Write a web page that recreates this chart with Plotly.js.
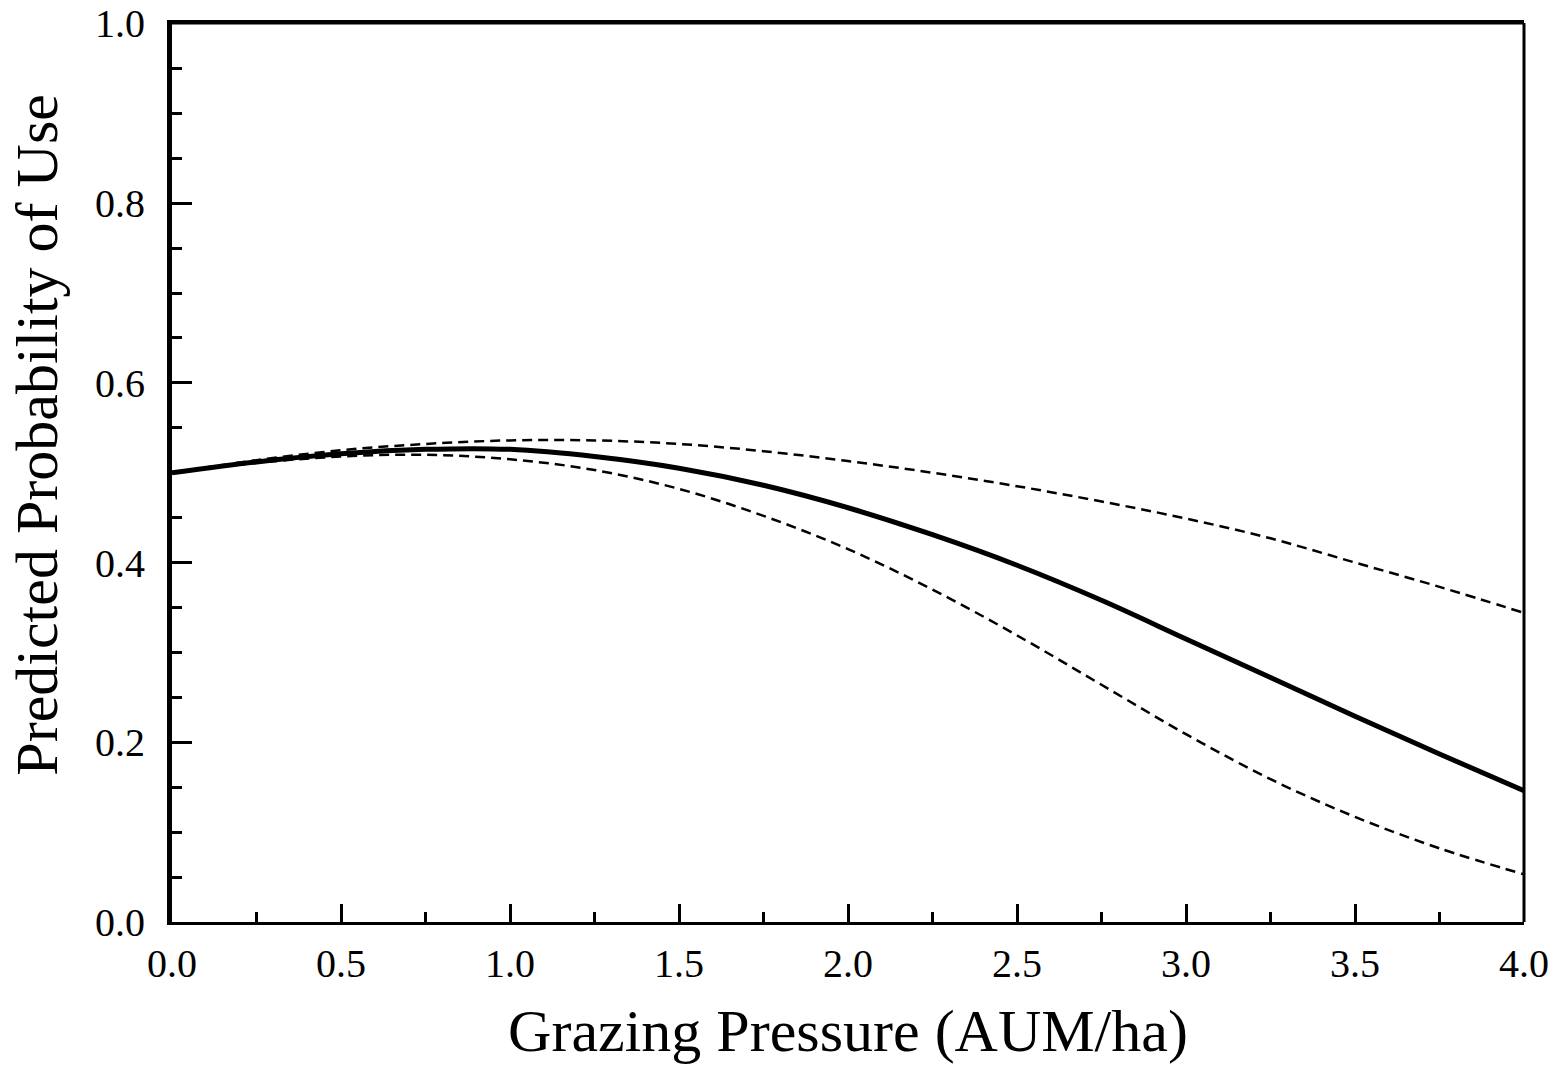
<!DOCTYPE html>
<html>
<head>
<meta charset="utf-8">
<script src="https://cdn.plot.ly/plotly-3.0.1.min.js"></script>
<style>html,body{margin:0;padding:0;background:#fff;}#chart{width:1555px;height:1070px;}</style>
</head>
<body>
<div id="chart"></div>
<script>
// Grazing pressure (AUM/ha)
const grazingPressure = [0, 0.25, 0.5, 0.75, 1.0, 1.25, 1.5, 1.75, 2.0, 2.25, 2.5, 2.75, 3.0, 3.25, 3.5, 3.75, 4.0];
// Predicted probability of use (fitted)
const predicted = [0.500, 0.512, 0.521, 0.526, 0.526, 0.518, 0.505, 0.486, 0.461, 0.431, 0.397, 0.358, 0.315, 0.272, 0.229, 0.187, 0.146];
// Upper confidence bound
const upperBound = [0.500, 0.514, 0.525, 0.532, 0.536, 0.536, 0.532, 0.524, 0.513, 0.500, 0.485, 0.468, 0.449, 0.427, 0.400, 0.373, 0.344];
// Lower confidence bound
const lowerBound = [0.500, 0.511, 0.518, 0.520, 0.515, 0.503, 0.482, 0.452, 0.415, 0.370, 0.319, 0.264, 0.209, 0.159, 0.117, 0.082, 0.053];

const xTickVals = [0, 0.5, 1.0, 1.5, 2.0, 2.5, 3.0, 3.5, 4.0];
const xTickText = ["0.0", "0.5", "1.0", "1.5", "2.0", "2.5", "3.0", "3.5", "4.0"];
const yTickVals = [0, 0.2, 0.4, 0.6, 0.8, 1.0];
const yTickText = ["0.0", "0.2", "0.4", "0.6", "0.8", "1.0"];
const xTitle = 'Grazing Pressure (AUM/ha)';
const yTitle = 'Predicted Probability of Use';

const serif = "Liberation Serif, Times New Roman, serif";

const traces = [
  {x: grazingPressure, y: upperBound, mode: 'lines', line: {color: '#000', width: 2.5, dash: '10px,6px', shape: 'spline', smoothing: 1}, hoverinfo: 'skip'},
  {x: grazingPressure, y: lowerBound, mode: 'lines', line: {color: '#000', width: 2.5, dash: '10px,6px', shape: 'spline', smoothing: 1}, hoverinfo: 'skip'},
  {x: grazingPressure, y: predicted, mode: 'lines', line: {color: '#000', width: 5, shape: 'spline', smoothing: 1}, hoverinfo: 'skip'}
];

const layout = {
  width: 1555, height: 1070,
  margin: {l: 172, r: 31, t: 23, b: 148},
  paper_bgcolor: '#fff', plot_bgcolor: '#fff',
  showlegend: false,
  font: {family: serif, color: '#000'},
  xaxis: {
    range: [0, 4.0], autorange: false,
    tickvals: xTickVals, ticktext: xTickText,
    ticks: 'inside', ticklen: 18, tickwidth: 3, tickcolor: '#000',
    minor: {dtick: 0.25, tick0: 0, ticks: 'inside', ticklen: 10, tickwidth: 3, tickcolor: '#000', showgrid: false},
    showline: true, linewidth: 3, linecolor: '#000', mirror: true,
    showgrid: false, zeroline: false,
    tickfont: {family: serif, size: 40, color: '#000'},
    ticklabelstandoff: 4,
    ticklabeloverflow: 'allow',
    title: {text: xTitle, font: {family: serif, size: 60, color: '#000'}, standoff: 24},
    automargin: false
  },
  yaxis: {
    range: [0, 1.0005], autorange: false,
    tickvals: yTickVals, ticktext: yTickText,
    ticks: 'inside', ticklen: 20, tickwidth: 3, tickcolor: '#000',
    minor: {dtick: 0.05, tick0: 0, ticks: 'inside', ticklen: 10, tickwidth: 3, tickcolor: '#000', showgrid: false},
    showline: true, linewidth: 5, linecolor: '#000', mirror: false,
    showgrid: false, zeroline: false,
    tickfont: {family: serif, size: 40, color: '#000'},
    ticklabelstandoff: 14,
    ticklabeloverflow: 'allow',
    automargin: false
  },
  annotations: [
    {text: yTitle, xref: 'paper', yref: 'paper', x: -0.0999, y: 0.542, xanchor: 'center', yanchor: 'middle',
     textangle: -90, showarrow: false, font: {family: serif, size: 60, color: '#000'}}
  ],
  shapes: [
    {type: 'line', xref: 'paper', yref: 'paper', x0: 1, x1: 1, y0: 0, y1: 1, line: {color: '#000', width: 3}},
    {type: 'line', xref: 'paper', yref: 'paper', x0: 0, x1: 1, y0: 1, y1: 1, line: {color: '#000', width: 3}}
  ]
};

Plotly.newPlot('chart', traces, layout, {displayModeBar: false, staticPlot: true});
</script>
</body>
</html>
